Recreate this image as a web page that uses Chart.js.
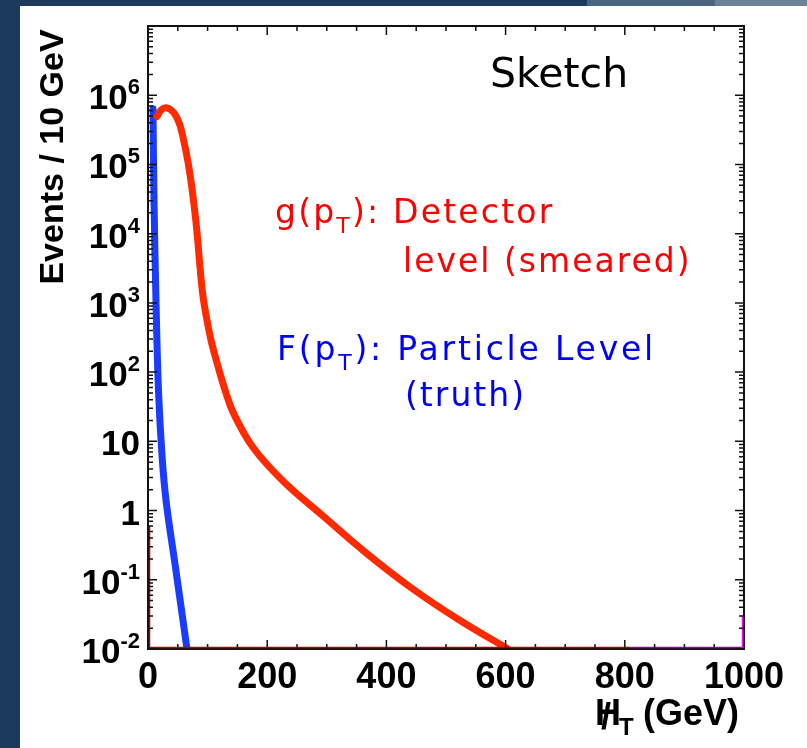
<!DOCTYPE html>
<html>
<head>
<meta charset="utf-8">
<script src="https://cdn.jsdelivr.net/npm/chart.js@4"></script>
<style>
  html, body { margin: 0; padding: 0; }
  body { width: 807px; height: 748px; background: #1b3a5c; position: relative; overflow: hidden; }
  #strip1 { position: absolute; left: 587px; top: 0; width: 128px; height: 6px; background: #4b6482; }
  #strip2 { position: absolute; left: 715px; top: 0; width: 92px; height: 6px; background: #6b8099; }
  #panel { position: absolute; left: 20px; top: 6px; right: 0; bottom: 0; background: #fff; }
  #chart { position: absolute; left: 0; top: 0; }
</style>
</head>
<body>
<div id="strip1"></div>
<div id="strip2"></div>
<div id="panel"></div>
<canvas id="chart" width="807" height="748"></canvas>
<script>
// detector level (smeared)
const smearedPt = [15, 22, 30, 39, 47, 54, 60, 67, 72, 77, 82, 87, 92, 99, 107, 117, 129, 143, 176, 226, 294, 367, 445, 523, 604];
const smearedEvents = [4.9e5, 6.1e5, 6.6e5, 6.1e5, 5.0e5, 3.6e5, 2.2e5, 1.1e5, 5.8e4, 2.7e4, 1.1e4, 3.5e3, 1.3e3, 560, 260, 125, 56, 26, 8.2, 2.7, 0.83, 0.24, 0.073, 0.026, 0.01];

// particle level (truth)
const truthPt = [8.4, 10.1, 13.4, 17.6, 23.5, 30.2, 46.1, 65.4];
const truthEvents = [6.35e5, 3.0e4, 1.08e3, 54, 6.3, 1.41, 0.152, 0.01];

const xTicks = [0, 200, 400, 600, 800, 1000];
const yTicks = [1e-2, 1e-1, 1, 10, 1e2, 1e3, 1e4, 1e5, 1e6];
const yTickBase = ["10", "10", "1", "10", "10", "10", "10", "10", "10"];
const yTickExp = ["-2", "-1", "", "", "2", "3", "4", "5", "6"];

const toPoints = (xs, ys) => xs.map((v, i) => ({ x: v, y: ys[i] }));

const LABEL_FONT = '"Liberation Sans", Arial, Helvetica, sans-serif';
const NOTE_FONT = '"DejaVu Sans", Verdana, sans-serif';

// draws text pieces one after another, "sub" pieces smaller and lowered
function drawParts(ctx, parts, x, y, size) {
  parts.forEach(p => {
    if (p.sub) {
      ctx.font = Math.round(size * 0.68) + 'px ' + NOTE_FONT;
      ctx.fillText(p.t, x, y + size * 0.3);
    } else {
      ctx.font = size + 'px ' + NOTE_FONT;
      ctx.fillText(p.t, x, y);
    }
    x += ctx.measureText(p.t).width;
  });
}

const decor = {
  id: 'decor',
  afterDatasetsDraw(chart) {
    const ctx = chart.ctx;
    const a = chart.chartArea;
    const x = chart.scales.x;
    const y = chart.scales.y;
    ctx.save();

    // frame
    ctx.strokeStyle = '#111';
    ctx.lineWidth = 2;
    ctx.strokeRect(a.left, a.top, a.right - a.left, a.bottom - a.top);

    // empty histograms sitting on the axes
    ctx.lineWidth = 1.5;
    ctx.strokeStyle = '#b00000';
    ctx.beginPath();
    ctx.moveTo(a.left + 1, a.bottom - 1.5);
    ctx.lineTo(x.getPixelForValue(810), a.bottom - 1.5);
    ctx.moveTo(a.left + 1.5, a.bottom);
    ctx.lineTo(a.left + 1.5, y.getPixelForValue(0.6));
    ctx.stroke();
    ctx.strokeStyle = '#a000a0';
    ctx.beginPath();
    ctx.moveTo(x.getPixelForValue(810), a.bottom - 1.5);
    ctx.lineTo(a.right - 1, a.bottom - 1.5);
    ctx.stroke();
    ctx.strokeStyle = '#ff00ff';
    ctx.beginPath();
    ctx.moveTo(a.right - 1.5, a.bottom);
    ctx.lineTo(a.right - 1.5, y.getPixelForValue(0.03));
    ctx.stroke();

    // inner tick marks
    ctx.strokeStyle = '#111';
    ctx.lineWidth = 1.5;
    ctx.beginPath();
    for (let v = 0; v <= 1000; v += 50) {
      const px = x.getPixelForValue(v);
      const len = v % 200 === 0 ? 9 : 5;
      ctx.moveTo(px, a.bottom); ctx.lineTo(px, a.bottom - len);
      ctx.moveTo(px, a.top); ctx.lineTo(px, a.top + len);
    }
    for (let e = -2; e < 7; e++) {
      for (let m = 1; m < 10; m++) {
        const py = y.getPixelForValue(m * Math.pow(10, e));
        const len = m === 1 ? 9 : 5;
        ctx.moveTo(a.left, py); ctx.lineTo(a.left + len, py);
        ctx.moveTo(a.right, py); ctx.lineTo(a.right - len, py);
      }
    }
    ctx.stroke();

    // tick labels
    ctx.fillStyle = '#000';
    ctx.textBaseline = 'alphabetic';
    ctx.textAlign = 'center';
    ctx.font = 'bold 36px ' + LABEL_FONT;
    xTicks.forEach(v => ctx.fillText(String(v), x.getPixelForValue(v), 688));

    ctx.textAlign = 'right';
    yTicks.forEach((v, i) => {
      const py = y.getPixelForValue(v);
      let right = a.left - 8;
      if (yTickExp[i]) {
        ctx.font = 'bold 22px ' + LABEL_FONT;
        ctx.fillText(yTickExp[i], right, py - 1);
        right -= ctx.measureText(yTickExp[i]).width;
      }
      ctx.font = 'bold 35px ' + LABEL_FONT;
      ctx.fillText(yTickBase[i], right, py + 14);
    });

    // axis titles
    ctx.save();
    ctx.translate(63, 157);
    ctx.rotate(-Math.PI / 2);
    ctx.textAlign = 'center';
    ctx.font = 'bold 34px ' + LABEL_FONT;
    ctx.fillText('Events / 10 GeV', 0, 0);
    ctx.restore();

    ctx.textAlign = 'left';
    ctx.font = 'bold 36px ' + LABEL_FONT;
    ctx.fillText('H', 595, 725);
    ctx.fillText('/', 601, 729);
    ctx.font = 'bold 24px ' + LABEL_FONT;
    ctx.fillText('T', 619, 735);
    ctx.font = 'bold 36px ' + LABEL_FONT;
    ctx.fillText('(GeV)', 643, 725);

    // annotations
    ctx.fillStyle = '#000';
    ctx.font = '41px ' + NOTE_FONT;
    ctx.fillText('Sketch', 490, 87);

    ctx.fillStyle = '#ff0000';
    ctx.letterSpacing = '2.2px';
    drawParts(ctx, [{ t: 'g(p' }, { t: 'T', sub: true }, { t: '): Detector' }], 275, 223, 33);
    ctx.letterSpacing = '2px';
    drawParts(ctx, [{ t: 'level (smeared)' }], 403, 272, 33);
    ctx.fillStyle = '#0000f5';
    ctx.letterSpacing = '2.8px';
    drawParts(ctx, [{ t: 'F(p' }, { t: 'T', sub: true }, { t: '): Particle Level' }], 277, 360, 33);
    ctx.letterSpacing = '2px';
    drawParts(ctx, [{ t: '(truth)' }], 405, 406, 33);

    ctx.restore();
  }
};

new Chart(document.getElementById('chart').getContext('2d'), {
  type: 'scatter',
  data: {
    datasets: [
      {
        label: 'g(pT): Detector level (smeared)',
        data: toPoints(smearedPt, smearedEvents),
        showLine: true,
        borderColor: '#ff2a00',
        borderWidth: 7,
        pointRadius: 0,
        tension: 0.4,
        borderCapStyle: 'round'
      },
      {
        label: 'F(pT): Particle Level (truth)',
        data: toPoints(truthPt, truthEvents),
        showLine: true,
        borderColor: '#1a3cff',
        borderWidth: 7,
        pointRadius: 0,
        tension: 0.4,
        borderCapStyle: 'round'
      }
    ]
  },
  options: {
    responsive: false,
    devicePixelRatio: 1,
    animation: false,
    layout: { padding: { left: 148, top: 26, right: 63, bottom: 99 } },
    plugins: { legend: { display: false }, tooltip: { enabled: false } },
    scales: {
      x: { type: 'linear', min: 0, max: 1000, display: false },
      y: { type: 'logarithmic', min: 0.01, max: 1e7, display: false }
    }
  },
  plugins: [decor]
});
</script>
</body>
</html>
